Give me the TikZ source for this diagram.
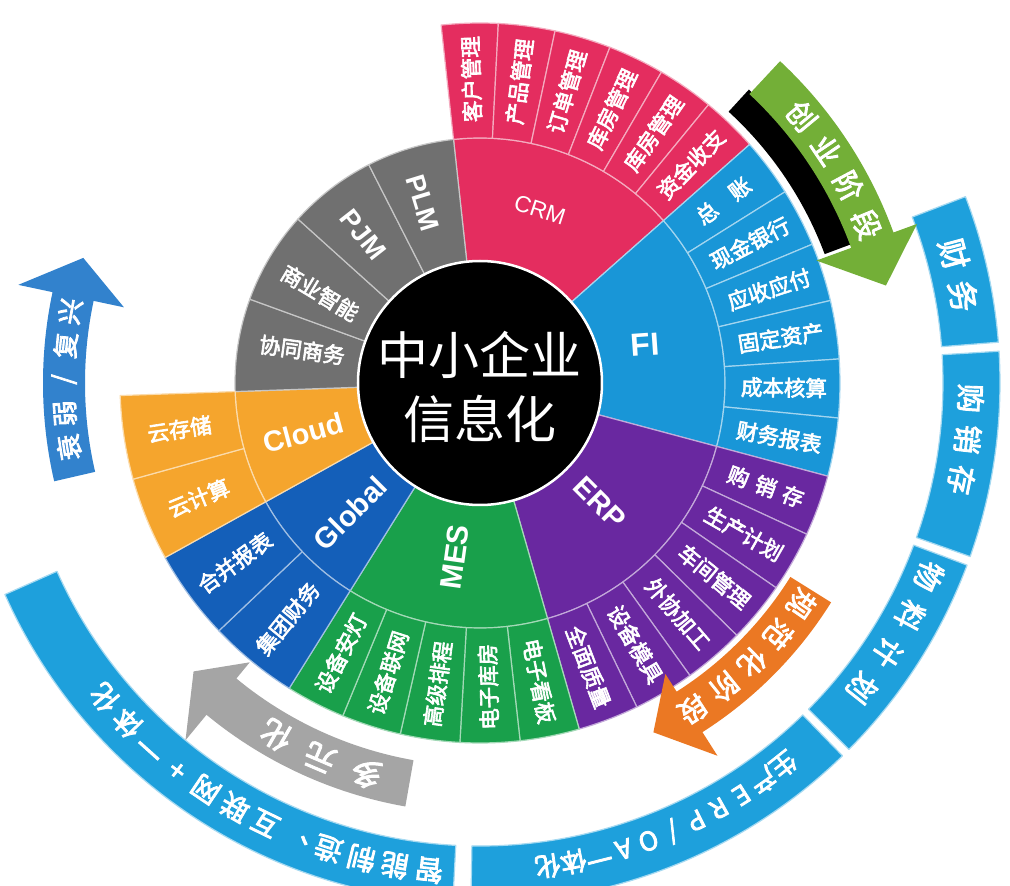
\documentclass[tikz,border=0pt]{standalone}
\usepackage{fontspec}
\usepackage{tikz}
\newfontfamily\cjk{Noto Sans CJK SC}
\newfontfamily\cjkb[FakeBold=3]{Noto Sans CJK SC}
\newfontfamily\lat{Liberation Sans}
\definecolor{crmred}{RGB}{228,45,95}
\definecolor{fiblue}{RGB}{25,150,215}
\definecolor{erppurple}{RGB}{105,40,160}
\definecolor{mesgreen}{RGB}{25,160,75}
\definecolor{globblue}{RGB}{20,95,185}
\definecolor{cloudorange}{RGB}{245,165,45}
\definecolor{greymod}{RGB}{112,112,112}
\definecolor{bandblue}{RGB}{30,160,220}
\definecolor{greenarr}{RGB}{115,175,55}
\definecolor{orangearr}{RGB}{235,120,35}
\definecolor{greyarr}{RGB}{165,165,165}
\definecolor{bluearr}{RGB}{50,130,205}
\tikzset{
	every node/.style={text=white,inner sep=0pt}
}
\tikzset{
	item/.style={font=\cjkb\fontsize{21.5}{21.5}\selectfont},
	module/.style={font=\lat\bfseries\fontsize{#1}{#1}\selectfont},
	module/.default=28,
	bandtext/.style={font=\cjkb\fontsize{#1}{#1}\selectfont},
	bandtext/.default=27,
	centre/.style={font=\cjk\fontsize{51}{64}\selectfont,align=center}
}
\newcommand{\sectorfill}[5]{%
	\filldraw[fill=#5,draw=#5!40!white,line width=1.2pt,line join=round]
	(#1:#3pt) arc[start angle=#1,end angle=#2,radius=#3pt]
	-- (#2:#4pt) arc[start angle=#2,end angle=#1,radius=#4pt] -- cycle;
}
\newcommand{\subring}[5]{%
	\foreach \lbl [count=\idx from 0] in {#5} {
		\pgfmathsetmacro\sa{#2-#3*\idx}
		\pgfmathsetmacro\sb{#2-#3*(\idx+1)}
		\pgfmathsetmacro\sm{#2-#3*(\idx+0.5)}
		\pgfmathsetmacro\rot{\sm<-85 ? \sm+180 : (\sm>95 ? \sm-180 : \sm)}
		\sectorfill{\sa}{\sb}{245}{360}{#4}
		\node[item,rotate=\rot] (#1-\idx) at (\sm:304pt) {\lbl};
	}
}
\newcommand{\arctext}[6][27]{%
	\foreach \ch [count=\idx from 0] in {#6} {
		\pgfmathsetmacro\sm{#3-#4*\idx}
		\node[bandtext=#1,rotate=\sm-90] (#2-\idx) at (\sm:#5pt) {\ch};
	}
}
\newcommand{\bentarrow}[8]{%
	\pgfmathsetmacro\rtip{(#5+#6)/2}
	\fill[#1] (#2:#5pt) arc[start angle=#2,end angle=#3,radius=#5pt]
	-- (#3:#7pt) -- (#4:\rtip pt) -- (#3:#8pt) -- (#3:#6pt)
	arc[start angle=#3,end angle=#2,radius=#6pt] -- cycle;
}

\begin{document}
\begin{tikzpicture}[x=1pt,y=1pt]
	\useasboundingbox (-480,-503) rectangle (530,383);
	\fill[white] (-480,-503) rectangle (530,383);
	% modules
	\sectorfill{96.2}{41.5}{118}{245}{crmred}
	\sectorfill{41.5}{-15}{118}{245}{fiblue}
	\sectorfill{-15}{-74}{118}{245}{erppurple}
	\sectorfill{-74}{-122}{118}{245}{mesgreen}
	\sectorfill{-122}{-151}{118}{245}{globblue}
	\sectorfill{209}{182}{118}{245}{cloudorange}
	\foreach \sa/\sb in {182/160,160/138,138/117,117/96.2} {\sectorfill{\sa}{\sb}{118}{245}{greymod}}
	\subring{crm}{96.2}{9.117}{crmred}{客户管理,产品管理,订单管理,库房管理,库房管理,资金收支}
	\subring{fi}{41.5}{9.417}{fiblue}{{总\hspace{0.9em}账},现金银行,应收应付,固定资产,成本核算,财务报表}
	\subring{erp}{-15}{9.833}{erppurple}{{购\hspace{0.35em}销\hspace{0.35em}存},生产计划,车间管理,外协加工,设备模具,全面质量}
	\subring{mes}{-74}{9.6}{mesgreen}{电子看板,电子库房,高级排程,设备联网,设备安灯}
	\subring{glob}{-122}{14.5}{globblue}{集团财务,合并报表}
	\subring{cloud}{209}{13.5}{cloudorange}{云计算,云存储}
	\filldraw[fill=black,draw=white,line width=2.5pt] (0,0) circle (122pt);
	\node[centre] (core) at (0,-4) {中小企业\\信息化};
	\node[module=22,font=\lat\fontsize{23}{23}\selectfont,rotate=-18] (crm) at (60,173) {CRM};
	\node[module=32,rotate=4] (fi) at (165,38) {FI};
	\node[module=29,rotate=-45] (erp) at (120,-120) {ERP};
	\node[module=30,rotate=82] (mes) at (-25,-174) {MES};
	\node[module=29,rotate=45] (glob) at (-130,-130) {Global};
	\node[module=29,rotate=15] (cloud) at (-177,-50) {Cloud};
	\node[module=27,rotate=-73] (plm) at (-57,180) {PLM};
	\node[module=27,rotate=-52] (pjm) at (-117,148) {PJM};
	\node[item,rotate=-31] (bi) at (-160,90) {商业智能};
	\node[item,rotate=-8] (co) at (-178,33) {协同商务};
	% stages
	\foreach \sa/\sb in {21/4.5,3.5/-19.5,-20.5/-44.8,-45.8/-91,-93/-156} {\sectorfill{\sa}{\sb}{463}{520}{bandblue}}
	\arctext[31]{cw}{15.2}{5}{491}{财,务}
	\arctext[29]{gxc}{-1.8}{4.8}{491}{购,销,存}
	\arctext[29]{wl}{-23.3}{5.1}{489}{物,料,计,划}
	\arctext[26]{sc}{-51.5}{3.05}{488}{生,产,E,R,P,/,O,A,一,体,化}
	\arctext[28]{zn}{-96}{4}{490}{智,能,制,造,、,互,联,网,+,一,体,化}
	\fill[black] (47.5:368pt) arc[start angle=47.5,end angle=20.5,radius=368pt] -- (20.5:398pt) arc[start angle=20.5,end angle=47.5,radius=398pt] -- cycle;
	\bentarrow{greenarr}{47}{20}{13.5}{395}{440}{358}{465}
	\bentarrow{orangearr}{-32}{-57.5}{-63.6}{366}{414}{345}{442}
	\bentarrow{greyarr}{-100}{-129.5}{-134.8}{383}{430}{362}{463}
	\bentarrow{bluearr}{193}{168}{162.5}{395}{437}{364}{472}
	\arctext[29]{cy}{39.7}{5.8}{418}{创,业,阶,段}
	\arctext[28]{gf}{-34.5}{5.6}{390}{规,范,化,阶,段}
	\arctext[31]{dy}{-106.2}{6.9}{407}{多,元,化}
	\arctext[26]{sr}{188.9}{4.7}{416}{衰,弱,/,复,兴}
\end{tikzpicture}
\end{document}
